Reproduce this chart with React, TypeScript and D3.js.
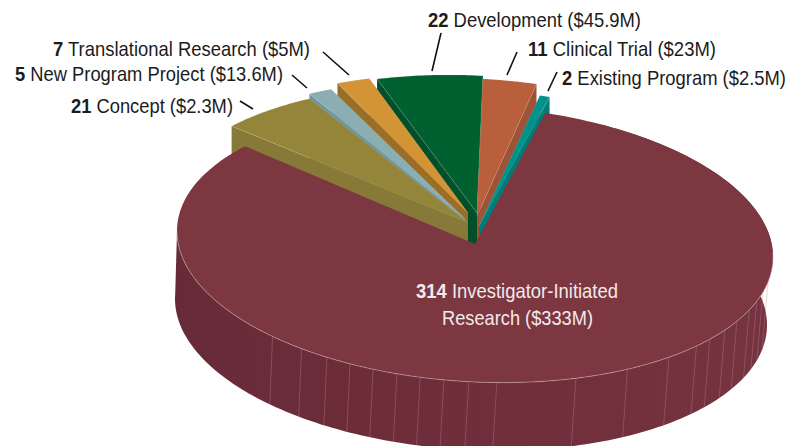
import React from "react";
import * as d3 from "d3";

const categories = ["Investigator-Initiated Research", "Concept", "New Program Project", "Translational Research", "Development", "Clinical Trial", "Existing Program"];
const counts = [314, 21, 5, 7, 22, 11, 2];
const funding = ["$333M", "$2.3M", "$13.6M", "$5M", "$45.9M", "$23M", "$2.5M"];
const topColors = ["#7c3741", "#94853b", "#8aaeb2", "#d29435", "#01602f", "#b95f3c", "#00928a"];
const wallColors = ["#6f303c", "#877a38", "#6f96a3", "#9a6e24", "#02502b", "#9e5236", "#007c78"];
// Seams on the rim wall, in degrees around the pie (0 = 12 o'clock, clockwise)
const seamAngles = [100.5, 105, 109, 113, 118.5, 123, 128, 132, 139.4, 149.2, 160.2, 175.8, 181.2, 186, 190.6, 195.2, 200, 204.8, 209.8, 215.6, 222.8];

const W = 795, H = 446;
const rad = Math.PI / 180;
const CX = 475, CY = 244, RX = 298, RY = 138, TILT = 13, DEPTH = 68;
const BX = 471, BRX = 296;

// Where each exploded wedge's apex sits, by category index
const apexes: [number, number][] = [[CX, CY], [467, 222], [465, 219], [468, 213], [477, 213], [477, 216], [479, 226]];
// Centre of the ellipse each wedge's rim is cut from (perspective moves it a little off the apex)
const rimOrigins: [number, number][] = [[CX, CY], [461.5, 224], [461.5, 219], [468, 213], [476, 213.5], [476, 216.5], [479.5, 228]];
// Painting order, back to front
const paintOrder = [4, 5, 6, 3, 2, 1, 0];

const pie = d3.pie<number>().sort(null).value(d => d).startAngle(13.6 * rad).endAngle(373.6 * rad);
const arcs = pie(counts);

const rimTop = (a: number, ox = CX, oy = CY): [number, number] => {
  const t = a - Math.PI / 2;
  return [ox + RX * Math.cos(t), oy + RY * Math.sin(t) + TILT * Math.cos(t)];
};
const rimBottom = (a: number): [number, number] => {
  const t = a - Math.PI / 2;
  return [BX + BRX * Math.cos(t), CY + DEPTH + RY * Math.sin(t) + TILT * Math.cos(t)];
};
const line = d3.line<[number, number]>().x(d => d[0]).y(d => d[1]);
const samples = (a0: number, a1: number, n = 90) => d3.range(n + 1).map(i => a0 + ((a1 - a0) * i) / n);

const wedgePath = (i: number) => {
  const { startAngle, endAngle } = arcs[i];
  const [ax, ay] = apexes[i];
  const [ox, oy] = rimOrigins[i];
  const pts: [number, number][] = [[ax, ay], ...samples(startAngle, endAngle, i === 0 ? 240 : 30).map(a => rimTop(a, ox, oy))];
  return line(pts)! + "Z";
};
const facePath = (i: number, a: number) => {
  const [ax, ay] = apexes[i];
  const [ox, oy] = rimOrigins[i];
  const p = rimTop(a, ox, oy);
  const pts: [number, number][] = [[ax, ay], p, [p[0], p[1] + DEPTH], [ax, ay + DEPTH]];
  return line(pts)! + "Z";
};

const wallStart = 13.6 * rad + 0.2, wallEnd = 272 * rad;
const wallPts: [number, number][] = [...samples(wallStart, wallEnd, 200).map(a => rimTop(a)), ...samples(wallEnd, wallStart, 200).map(a => rimBottom(a))];
const wallPath = line(wallPts)! + "Z";
const rimEdge = line(samples(88 * rad, 270 * rad, 200).map(a => rimTop(a)))!;

type Lab = { i: number; x: number; y: number; w: number };
const labels: Lab[] = [
  { i: 4, x: 428, y: 27, w: 213 },
  { i: 5, x: 528, y: 56, w: 188 },
  { i: 6, x: 562, y: 85, w: 224 },
  { i: 3, x: 53, y: 56, w: 257 },
  { i: 2, x: 15, y: 81, w: 268 },
  { i: 1, x: 71, y: 113, w: 162 },
];
const leaders = [
  [441, 33, 432, 71], [517, 52, 507, 75], [557, 72, 548, 91],
  [323, 52, 349, 75], [292, 75, 307, 88], [240, 101, 253, 109],
];
const FONT = "'Liberation Sans',Arial,sans-serif";
const FS = 21;

export default function App() {
  return (
    <svg width={W} height={H} viewBox={`0 0 ${W} ${H}`} style={{ position: "absolute", left: 0, top: 0, background: "#fff" }} fontFamily={FONT}>
      <defs>
        <linearGradient id="wall" x1="0" x2="1" y1="0" y2="0">
          <stop offset="0" stopColor="#672b37" />
          <stop offset="0.5" stopColor="#6f2e3a" />
          <stop offset="1" stopColor="#763340" />
        </linearGradient>
      </defs>
      <path d={wallPath} fill="url(#wall)" />
      {seamAngles.map((s, i) => {
        const a = rimTop(s * rad), b = rimBottom(s * rad);
        return <line key={i} x1={a[0]} y1={a[1]} x2={b[0]} y2={b[1]} stroke="#b98d93" strokeWidth={0.6} opacity={0.6} />;
      })}
      {paintOrder.map(i => (
        <g key={categories[i]}>
          {i !== 0 && <path d={facePath(i, arcs[i].startAngle)} fill={wallColors[i]} />}
          {i !== 0 && <path d={facePath(i, arcs[i].endAngle)} fill={wallColors[i]} />}
          <path d={wedgePath(i)} fill={topColors[i]} stroke={i === 0 ? "none" : "#ffffff"} strokeOpacity={0.2} strokeWidth={0.6} />
        </g>
      ))}
      <path d={rimEdge} fill="none" stroke="#d3b4b8" strokeWidth={0.7} opacity={0.75} />
      {leaders.map((l, i) => (
        <line key={i} x1={l[0]} y1={l[1]} x2={l[2]} y2={l[3]} stroke="#111" strokeWidth={1.6} />
      ))}
      {labels.map(l => (
        <text key={l.i} x={l.x} y={l.y} textLength={l.w} lengthAdjust="spacingAndGlyphs" fontSize={FS} fill="#1c1c1c">
          <tspan fontWeight="bold">{counts[l.i]}</tspan> {categories[l.i]} ({funding[l.i]})
        </text>
      ))}
      <text x={416} y={298} textLength={202} lengthAdjust="spacingAndGlyphs" fontSize={FS} fill="#f3e9ea">
        <tspan fontWeight="bold">{counts[0]}</tspan> Investigator-Initiated
      </text>
      <text x={442} y={325} textLength={151} lengthAdjust="spacingAndGlyphs" fontSize={FS} fill="#f3e9ea">
        Research ({funding[0]})
      </text>
    </svg>
  );
}
